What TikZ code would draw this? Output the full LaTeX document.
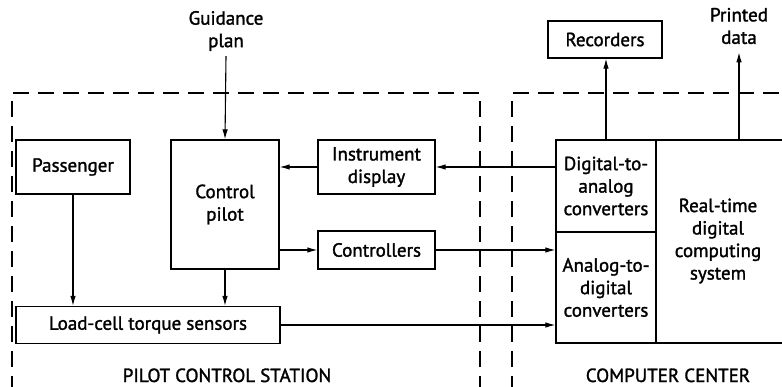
\documentclass[tikz,border=0pt]{standalone}
\usepackage{fontspec}
\setmainfont{PT Sans}[BoldFont=PT Sans,BoldFeatures={FakeBold=1.5}]
\usetikzlibrary{arrows.meta}
\begin{document}
\begin{tikzpicture}[x=1pt,y=-1pt,
  blk/.style={draw,line width=1.3pt,inner sep=0pt,align=center,font=\fontsize{19}{22.5}\bfseries},
  txt/.style={inner sep=0pt,align=center,font=\fontsize{19}{22.5}\bfseries},
  arr/.style={line width=1.1pt,-{Latex[length=10pt,width=5.5pt]}},
  zone/.style={line width=1.4pt,dash pattern=on 16pt off 9pt}]
\useasboundingbox (0,0) rectangle (782,386);
% zones
\draw[zone] (480,392) -- (480,93) -- (12,93) -- (12,392);
\draw[zone] (512,392) -- (512,93) -- (790,93);
\node[txt,anchor=base] (pcs) at (227,382) {PILOT CONTROL STATION};
\node[txt,anchor=base] (cc) at (668,382) {COMPUTER CENTER};
% blocks
\node[blk,minimum width=114pt,minimum height=54pt] (pass) at (73,167) {Passenger};
\node[blk,minimum width=108pt,minimum height=129pt] (cp) at (225,204.5) {Control\\pilot};
\node[blk,minimum width=117pt,minimum height=54pt] (inst) at (376.5,167) {Instrument\\display};
\node[blk,minimum width=117pt,minimum height=38pt] (ctrl) at (376.5,250) {Controllers};
\node[blk,minimum width=264pt,minimum height=37pt] (load) at (148,325) {Load-cell torque sensors};
\node[blk,minimum width=100pt,minimum height=92pt] (da) at (606,186) {Digital-to-\\analog\\converters};
\node[blk,minimum width=100pt,minimum height=111pt] (ad) at (606,287.5) {Analog-to-\\digital\\converters};
\draw[line width=1.3pt] (656,140) -- (790,140) (656,343) -- (790,343);
\node[txt] (rt) at (718,241) {Real-time\\digital\\computing\\system};
\coordinate (rttop) at (739,140);
\node[blk,minimum width=114pt,minimum height=37pt] (rec) at (605,39.5) {Recorders};
\node[txt] (gp) at (226,31) {Guidance\\plan};
\node[txt] (pd) at (739,26) {Printed\\data};
% connectors
\draw[arr] (gp.south) ++(0,5) coordinate (gps) -- (cp.north);
\draw[arr] (inst.west) -- (cp.east |- inst.west);
\draw[arr] (da.west |- inst.east) -- (inst.east);
\draw[arr] (cp.east |- ctrl.west) -- (ctrl.west);
\draw[arr] (ctrl.east) -- (ad.west |- ctrl.east);
\draw[arr] (load.east) -- (ad.west |- load.east);
\draw[arr] (pass.south) -- (pass.south |- load.north);
\draw[arr] (cp.south) -- (cp.south |- load.north);
\draw[arr] (da.north) -- (rec.south -| da.north);
\draw[arr,shorten >=8pt] (rttop) -- (pd.south);
\end{tikzpicture}
\end{document}
